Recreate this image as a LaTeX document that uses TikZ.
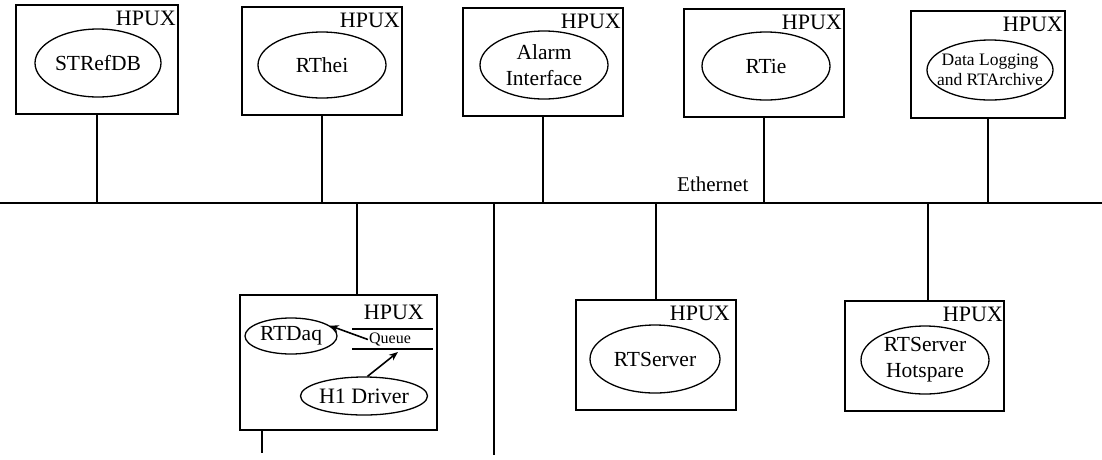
\documentclass[tikz,border=0pt]{standalone}
\usepackage{fontspec}
\setmainfont{Liberation Serif}
\usetikzlibrary{shapes.geometric,arrows.meta}
\begin{document}
\begin{tikzpicture}[x=1pt,y=-1pt,
  hostbox/.style={draw, line width=2pt, minimum width=160pt, minimum height=108pt, inner sep=0pt},
  proc/.style={draw, ellipse, line width=1.3pt, inner sep=0pt, align=center, font=\fontsize{21.5}{26}\selectfont},
  oslabel/.style={inner sep=0pt, font=\fontsize{22}{24}\selectfont},
  wire/.style={line width=2pt},
  flow/.style={line width=1.6pt, -{Stealth[length=9pt,width=7pt]}}
]
\useasboundingbox (0,0) rectangle (1102,459);

% ---------- top row hosts ----------
\node[hostbox, minimum width=162pt, minimum height=109pt] (b1) at (97,59.5) {};
\node[hostbox] (b2) at (322,61) {};
\node[hostbox] (b3) at (543,62) {};
\node[hostbox] (b4) at (764,63) {};
\node[hostbox, minimum width=154pt, minimum height=107pt] (b5) at (988,64.5) {};

\node[oslabel, anchor=north east] (h1) at ([xshift=-3pt,yshift=-7pt]b1.north east) {HPUX};
\node[oslabel, anchor=north east] (h2) at ([xshift=-3pt,yshift=-7pt]b2.north east) {HPUX};
\node[oslabel, anchor=north east] (h3) at ([xshift=-3pt,yshift=-7pt]b3.north east) {HPUX};
\node[oslabel, anchor=north east] (h4) at ([xshift=-3pt,yshift=-7pt]b4.north east) {HPUX};
\node[oslabel, anchor=north east] (h5) at ([xshift=-3pt,yshift=-7pt]b5.north east) {HPUX};

\node[proc, minimum width=126pt, minimum height=68pt] (e1) at (98,63) {STRefDB};
\node[proc, minimum width=128pt, minimum height=66pt] (e2) at (322,65) {RThei};
\node[proc, minimum width=128pt, minimum height=68pt] (e3) at (544,65) {Alarm\\Interface};
\node[proc, minimum width=128pt, minimum height=68pt] (e4) at (766,66) {RTie};
\node[proc, minimum width=126pt, minimum height=60pt, inner xsep=-10pt, inner ysep=-4pt, font=\fontsize{17.5}{20}\selectfont] (e5) at (990,70) {Data Logging\\and RTArchive};

% ---------- bus ----------
\coordinate (busL) at (0,203);
\coordinate (busR) at (1102,203);
\draw[line width=2.4pt] (busL) -- (busR);
\node[inner sep=0pt, anchor=base west, font=\fontsize{21}{24}\selectfont] (eth) at (677,191) {Ethernet};

\foreach \b in {b1,b2,b3,b4,b5}
  \draw[wire] (\b.south) -- (\b.south |- busL);

% ---------- lower hosts ----------
\node[hostbox, minimum width=197pt, minimum height=135pt] (daq) at (338.5,362.5) {};
\node[hostbox, minimum height=110pt] (srv) at (656,355) {};
\node[hostbox, minimum width=159pt, minimum height=110pt] (hot) at (924.5,356) {};

\node[oslabel, anchor=north east] (h6) at ([xshift=-14pt,yshift=-11pt]daq.north east) {HPUX};
\node[oslabel, anchor=north east] (h7) at ([xshift=-7pt,yshift=-7pt]srv.north east) {HPUX};
\node[oslabel, anchor=north east] (h8) at ([xshift=-2pt,yshift=-7pt]hot.north east) {HPUX};

\node[proc, minimum width=130pt, minimum height=68pt] (e7) at (655,359) {RTServer};
\node[proc, minimum width=128pt, minimum height=68pt] (e8) at (925,360) {RTServer\\Hotspare};

% connectors to bus
\coordinate (c6) at (357,203);
\draw[wire] (c6) -- (c6 |- daq.north);
\draw[wire] (srv.north) -- (srv.north |- busL);
\coordinate (c8) at (928,203);
\draw[wire] (c8) -- (c8 |- hot.north);

\coordinate (tap) at (494,203);
\coordinate (tapend) at (494,455);
\draw[line width=1.6pt] (tap) -- (tapend);

\coordinate (stubend) at (262,453);
\draw[wire] (stubend |- daq.south) -- (stubend);

% ---------- inside RTDaq host ----------
\node[proc, minimum width=92pt, minimum height=36pt] (rtdaq) at (291,336) {RTDaq};
\node[proc, minimum width=122pt, minimum height=38pt, font=\fontsize{22}{26}\selectfont] (drv) at (364,396) {H1 Driver};

\coordinate (qa1) at (352,329);
\coordinate (qb1) at (433,329);
\coordinate (qa2) at (352,349);
\coordinate (qb2) at (433,349);
\draw[line width=1.2pt] (qa1) -- (qb1);
\draw[line width=2.8pt] (qa2) -- (qb2);
\node[inner sep=1pt, font=\fontsize{16}{18}\selectfont] (queue) at (390,339.5) {Queue};
\coordinate (qin) at (398,352);

\draw[flow] (queue.west) -- (rtdaq.15);
\draw[flow] (drv.80) -- (qin);
\end{tikzpicture}
\end{document}
